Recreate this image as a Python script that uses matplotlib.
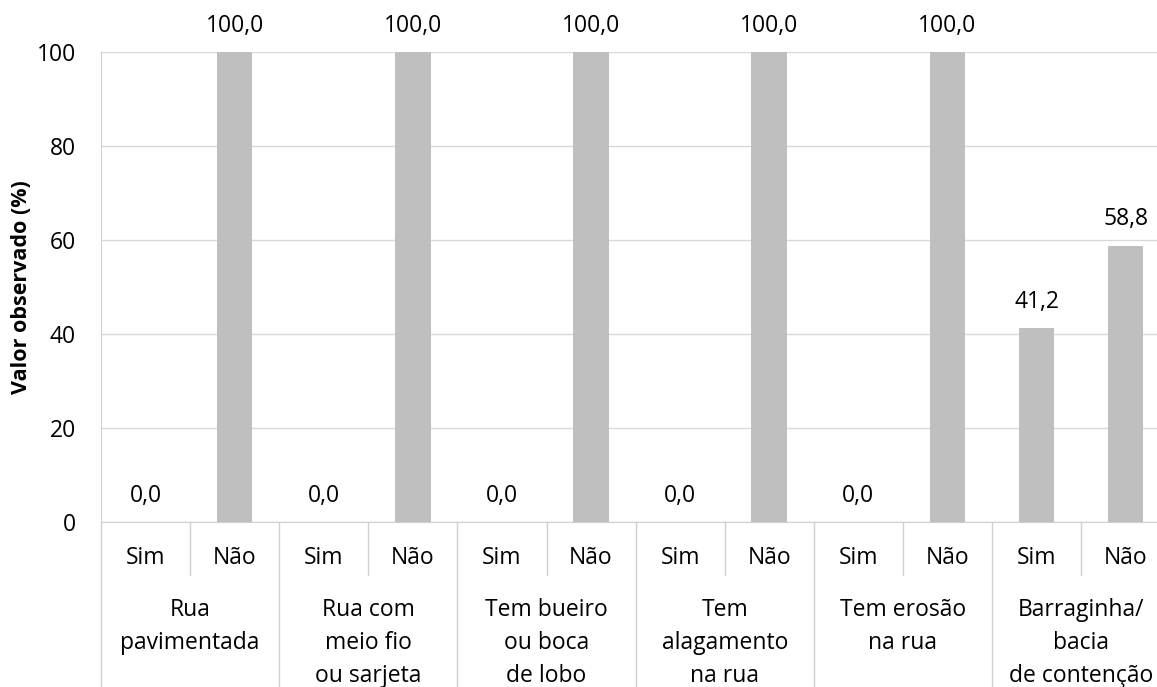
import matplotlib.pyplot as plt
from matplotlib.transforms import blended_transform_factory

# data
groups = [
    ["Rua", "pavimentada"],
    ["Rua com", "meio fio", "ou sarjeta"],
    ["Tem bueiro", "ou boca", "de lobo"],
    ["Tem", "alagamento", "na rua"],
    ["Tem erosão", "na rua"],
    ["Barraginha/", "bacia", "de contenção"],
]
answers = ["Sim", "Não"]
values = [0.0, 100.0, 0.0, 100.0, 0.0, 100.0, 0.0, 100.0, 0.0, 100.0, 41.2, 58.8]
y_ticks = [0, 20, 40, 60, 80, 100]

W, H = 1157, 687
BAR_COLOR = "#BFBFBF"
LINE_COLOR = "#D0D0D0"
plt.rcParams["font.family"] = ["Open Sans", "DejaVu Sans"]
FS = 16.5

fig = plt.figure(figsize=(W / 100, H / 100), dpi=100)
ax_left, ax_right, ax_top, ax_bot = 101, 1157, 52, 522
ax = fig.add_axes([ax_left / W, 1 - ax_bot / H, (ax_right - ax_left) / W, (ax_bot - ax_top) / H])

x = list(range(len(values)))
ax.bar(x, values, width=0.4, color=BAR_COLOR, zorder=3)
slot_px = 89.1
x_max = -0.5 + (ax_right - ax_left) / slot_px
ax.set_xlim(-0.5, x_max)
ax.set_ylim(0, 100)
ax.set_yticks(y_ticks)
ax.set_yticklabels([str(t) for t in y_ticks], fontsize=FS)
ax.tick_params(axis="y", length=0, pad=18)
ax.set_xticks([])
ax.grid(axis="y", color="#D9D9D9", linewidth=1, zorder=0)
for s in ["top", "right"]:
    ax.spines[s].set_visible(False)
ax.spines["left"].set_color(LINE_COLOR)
ax.spines["bottom"].set_color(LINE_COLOR)
fig.text(22 / W, 1 - 287 / H, "Valor observado (%)", rotation=90, ha="center",
         va="center", fontsize=FS - 1, fontweight="bold")

for xi, v in zip(x, values):
    ax.annotate(f"{v:.1f}".replace(".", ","), (xi, v), xytext=(0, 19),
                textcoords="offset points", ha="center", va="center",
                fontsize=FS, annotation_clip=False)

tr = blended_transform_factory(ax.transData, fig.transFigure)
def fy(ypix):
    return 1 - ypix / H

# multi-level category axis
for gi, lines in enumerate(groups):
    for ai, a in enumerate(answers):
        ax.text(2 * gi + ai, fy(558), a, transform=tr, ha="center", va="center", fontsize=FS)
    for li, line in enumerate(lines):
        ax.text(2 * gi + 0.5, fy(610 + 33 * li), line, transform=tr,
                ha="center", va="center", fontsize=FS)
    # separator between Sim and Não
    ax.plot([2 * gi + 0.5] * 2, [fy(ax_bot), fy(575)], transform=tr,
            color=LINE_COLOR, linewidth=1, clip_on=False)
    # group separator
    ax.plot([2 * gi - 0.5] * 2, [fy(ax_bot), fy(H)], transform=tr,
            color=LINE_COLOR, linewidth=1, clip_on=False)

fig.savefig("out.png", dpi=100)
